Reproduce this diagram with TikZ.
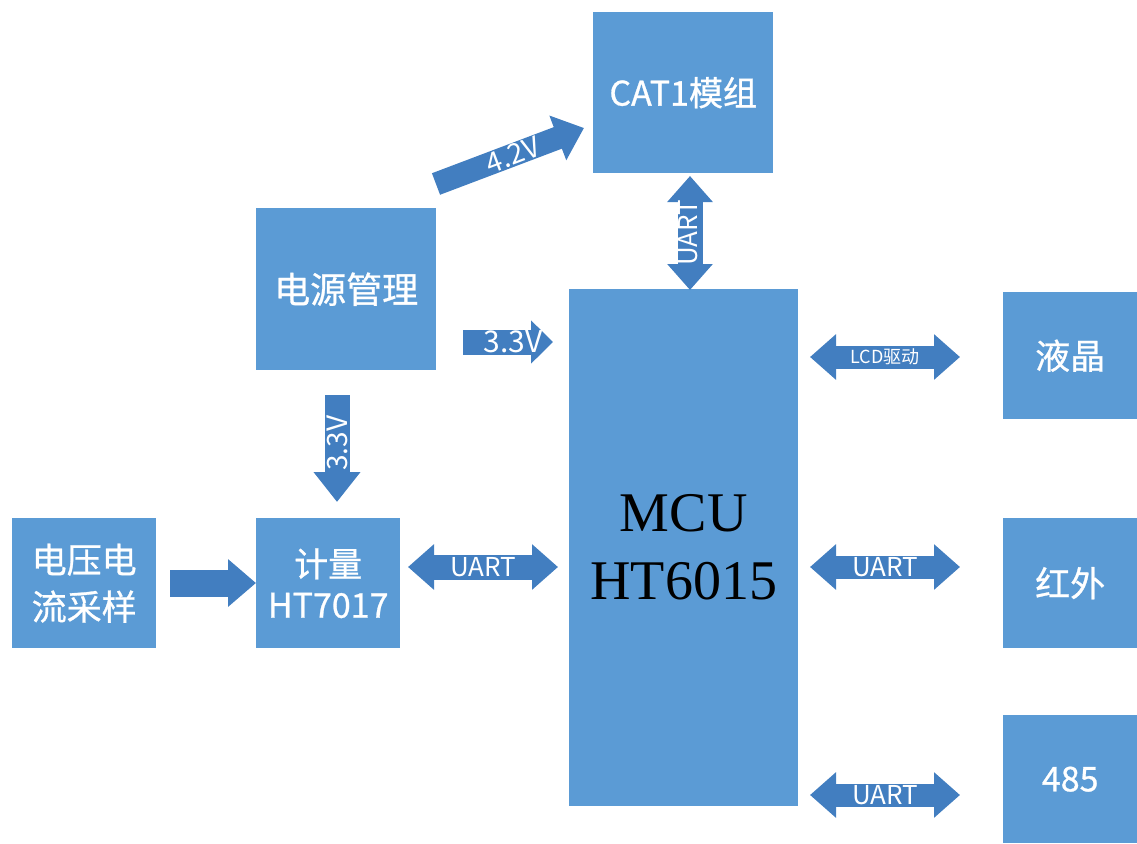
\documentclass[tikz,border=0pt]{standalone}
\usepackage{fontspec}
\setmainfont{Noto Sans CJK SC}
\newfontfamily\kastenfont[FakeBold=0.8]{Noto Sans CJK SC}
\newfontfamily\mcufont{Liberation Serif}
\usepackage{tikz}
\usetikzlibrary{arrows.meta,calc,positioning}
\definecolor{kastenblau}{RGB}{91,155,213}
\definecolor{pfeilblau}{RGB}{66,126,192}

\begin{document}
\begin{tikzpicture}[x=1pt,y=-1pt,
  kasten/.style={fill=kastenblau,draw=none,text=white,align=center,anchor=north west,inner sep=0pt,font=\kastenfont\fontsize{34}{41}\selectfont},
  pfeil/.style={draw=pfeilblau,line width=25pt,-{Triangle[width=46pt,length=28pt]}},
  dpfeil/.style={draw=pfeilblau,line width=25pt,{Triangle[width=44pt,length=26pt]}-{Triangle[width=44pt,length=26pt]}},
  ptext/.style={text=white,inner sep=0pt,font=\fontsize{26}{26}\selectfont}]
%Pixelraster 1137x843, y nach unten
\useasboundingbox (0,0) rectangle (1137,843);
% Kaesten
\node[kasten,minimum width=180pt,minimum height=161pt] (cat) at (593,12) {CAT1模组};
\node[kasten,minimum width=180pt,minimum height=162pt,font=\kastenfont\fontsize{36}{41}\selectfont] (pwr) at (256,208) {电源管理};
\node[kasten,minimum width=229pt,minimum height=517pt,text=black,font=\mcufont\fontsize{56}{68}\selectfont] (mcu) at (569,289) {MCU\\HT6015};
\node[kasten,minimum width=134pt,minimum height=127pt,font=\kastenfont\fontsize{35}{41}\selectfont] (lcd) at (1003,292) {液晶};
\node[kasten,minimum width=134pt,minimum height=130pt,font=\kastenfont\fontsize{35}{41}\selectfont] (ir) at (1003,518) {红外};
\node[kasten,minimum width=134pt,minimum height=128pt] (rs) at (1003,715) {485};
\node[kasten,minimum width=144pt,minimum height=130pt,font=\kastenfont\fontsize{35}{47}\selectfont] (samp) at (12,518) {电压电\\流采样};
\node[kasten,minimum width=144pt,minimum height=130pt] (meter) at (256,518) {计量\\HT7017};
% Endpunkte der Pfeile
\coordinate (v42a) at (436,184);
\coordinate (v42b) at (584,128);
\coordinate (ua) at (690,176);
\coordinate (ub) at (690,290);
\coordinate (v33a) at (463,342);
\coordinate (v33b) at (553,342);
\coordinate (v33c) at (337,395);
\coordinate (v33d) at (337,502);
\coordinate (ina) at (170,583);
\coordinate (inb) at (256,583);
\coordinate (ma) at (408,567);
\coordinate (mb) at (558,567);
% Pfeile
\draw[pfeil,line width=23pt] (v42a) -- node[ptext,sloped,pos=0.52,font=\fontsize{28}{28}\selectfont] {4.2V} (v42b);
\draw[dpfeil] (ua) -- node[ptext,rotate=90,yshift=2pt] {UART} (ub);
\draw[pfeil,-{Triangle[width=42pt,length=22pt]}] (v33a) -- node[ptext,xshift=5pt,font=\fontsize{30}{30}\selectfont] {3.3V} (v33b);
\draw[pfeil,-{Triangle[width=45pt,length=30pt]}] (v33c) -- node[ptext,rotate=90,pos=0.45,font=\fontsize{28}{28}\selectfont] {3.3V} (v33d);
\draw[pfeil,line width=27pt] (ina) -- (inb);
\draw[dpfeil] (ma) -- node[ptext] {UART} (mb);
\foreach \y/\name/\txt/\gr in {357/lcdp/{LCD驱动}/18, 567/irp/UART/26, 795/rsp/UART/26}{
  \coordinate (\name a) at (810,\y);
  \coordinate (\name b) at (960,\y);
  \draw[dpfeil,line width=23pt] (\name a) -- node[ptext,font=\fontsize{\gr}{\gr}\selectfont] {\txt} (\name b);
}
\end{tikzpicture}
\end{document}
